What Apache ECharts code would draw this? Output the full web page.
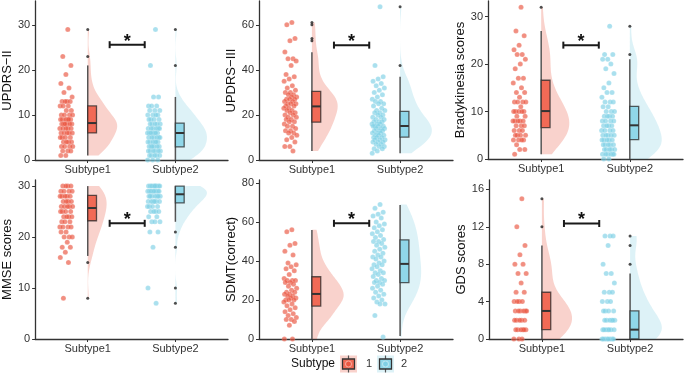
<!DOCTYPE html>
<html>
<head>
<meta charset="utf-8">
<script src="https://cdn.jsdelivr.net/npm/echarts@6/dist/echarts.min.js"></script>
<style>
  html, body { margin: 0; padding: 0; background: #fff; }
  #main { width: 685px; height: 375px; }
</style>
</head>
<body>
<div id="main"></div>
<script>
// categories and panel titles
var categories = ['Subtype1', 'Subtype2'];
var panelNames = ['UPDRS\u2212II', 'UPDRS\u2212III', 'Bradykinesia scores', 'MMSE scores', 'SDMT(correct)', 'GDS scores'];
var yMax = [35.3, 70.6, 33.3, 31.2, 81.5, 17];
var yTicks = [[0, 10, 20, 30], [0, 20, 40, 60], [0, 10, 20, 30], [0, 10, 20, 30], [0, 20, 40, 60, 80], [0, 4, 8, 12, 16]];

// raw scores, subtype 1
var sub1Scores = [
  [29,23,21,19,17,16,15,14,13,13,13,13,12,12,12,11,11,10,10,10,10,9,9,9,9,9,9,8,8,8,8,8,8,7,7,7,7,7,6,6,6,6,6,5,5,5,5,4,4,4,4,3,3,3,3,2,2,2,1,1],
  [61,60,54,53,48,45,45,44,42,38,37,36,35,33,32,31,30,30,29,29,28,28,27,27,27,26,26,25,25,25,24,24,23,23,22,22,21,21,20,20,19,19,18,18,17,17,16,15,15,14,13,13,12,12,11,10,9,8,6,6,4],
  [32,27,26,24,23,22,22,21,20,19,17,17,16,15,14,14,13,12,12,12,12,11,10,10,10,10,10,9,9,8,8,8,8,8,7,7,7,6,6,6,5,5,5,5,4,4,4,4,3,2,2,1],
  [30,30,30,30,29,29,29,29,28,28,28,28,28,27,27,27,27,26,26,26,26,26,25,25,25,25,24,24,24,24,23,23,23,22,22,22,22,21,21,20,20,20,19,18,18,17,16,15,8],
  [56,55,49,48,45,43,39,38,37,36,35,33,31,30,30,30,29,29,28,27,26,25,24,24,23,23,22,22,21,21,20,20,20,19,18,17,16,15,14,13,12,11,10,10,9,7,0,0],
  [15,12,10,9,8,8,7,7,6,5,5,4,4,4,4,3,3,3,3,3,3,2,2,2,2,2,1,1,1,1,1,1,0,0,0]
];
// raw scores, subtype 2
var sub2Scores = [
  [29,21,14,14,12,12,12,11,11,11,10,10,10,10,9,9,9,9,8,8,8,8,8,7,7,7,7,7,7,6,6,6,6,6,6,6,5,5,5,5,5,5,4,4,4,4,4,4,3,3,3,3,3,3,2,2,2,2,2,2,1,1,1,1,1,0,0,0],
  [68,42,37,36,35,34,33,32,31,30,29,28,27,26,26,25,25,24,23,22,22,21,21,20,20,19,19,18,18,17,17,17,16,16,16,15,15,15,15,14,14,14,13,13,13,12,12,12,11,11,11,10,10,10,9,9,9,8,8,8,7,7,6,6,5,5,4,3],
  [28,22,22,21,21,20,19,18,16,15,14,14,13,12,12,12,11,11,10,10,10,9,9,9,9,8,8,8,8,7,7,7,7,6,6,6,6,5,5,5,5,5,4,4,4,4,4,3,3,3,3,3,2,2,2,2,2,1,1,1,1,1,1,0,0],
  [30,30,30,30,30,30,30,30,30,29,29,29,29,29,29,29,29,28,28,28,28,28,28,28,27,27,27,27,27,27,26,26,26,26,25,25,25,25,24,24,23,23,23,21,21,18,10,7],
  [69,67,65,64,63,62,60,59,58,57,56,55,54,53,52,51,50,50,49,48,47,46,45,44,43,42,42,41,40,39,38,38,37,36,35,34,34,33,32,31,30,30,29,29,28,27,26,25,24,23,22,21,20,19,18,18,12,1],
  [11,11,11,10,8,7,7,6,5,5,5,4,4,4,3,3,3,3,2,2,2,2,2,2,1,1,1,1,1,1,1,0,0,0,0,0,0,0,0]
];

// box stats [lower whisker, Q1, median, Q3, upper whisker]
var box1 = [[1,6,8.2,12,21], [4,16.8,23.8,30.5,47.8], [1,6.6,10.1,16.6,27], [16.3,23.2,25.7,28.2,30], [0,16.9,23.1,31.9,55.9], [0,1,3,5,10]];
var box2 = [[0,2.9,6,8.2,14], [3,10.2,15.1,21.6,37], [0,4.1,7.1,11.1,21], [23,26.7,28.4,30,30], [1.5,28.9,38.5,50.8,68.7], [0,0,1,3,7]];
var outliers1 = [[23,29], [53,54,60,61], [32], [15,8], [], [12,15]];
var outliers2 = [[21,29], [42,68], [22,28], [21,18,10,7], [], [8,10,11]];

// significance bars
var sigY = [25.6, 51, 24, 22.7, 59.3, 12.35];
var sigX = [1.25, 1.65];
var sigText = '*';

var grids = [
  {left: 30, top: 1, width: 198, height: 159},
  {left: 259, top: 1, width: 194, height: 159},
  {left: 488, top: 1, width: 195, height: 158},
  {left: 29, top: 180, width: 199, height: 159},
  {left: 259, top: 180, width: 194, height: 159},
  {left: 489, top: 180, width: 194, height: 159}
];

var pointColors = ['rgba(234,84,62,0.82)', 'rgba(125,207,229,0.82)'];
var boxColors = ['rgba(240,100,80,0.95)', 'rgba(140,214,232,0.95)'];
var violinColors = ['rgba(230,75,53,0.25)', 'rgba(77,187,213,0.19)'];

function quantile(sorted, p) {
  var h = (sorted.length - 1) * p, lo = Math.floor(h);
  return sorted[lo] + (h - lo) * ((sorted[lo + 1] !== undefined ? sorted[lo + 1] : sorted[lo]) - sorted[lo]);
}

function density(vals) {
  var s = vals.slice().sort(function (a, b) { return a - b; });
  var n = s.length, mean = 0, sd = 0;
  s.forEach(function (v) { mean += v; }); mean /= n;
  s.forEach(function (v) { sd += (v - mean) * (v - mean); }); sd = Math.sqrt(sd / (n - 1));
  var iqr = quantile(s, 0.75) - quantile(s, 0.25);
  var sp = iqr > 0 ? Math.min(sd, iqr / 1.34) : sd;
  var h = 0.9 * sp * Math.pow(n, -0.2);
  var lo = s[0], hi = s[n - 1], out = [];
  for (var k = 0; k <= 100; k++) {
    var y = lo + (hi - lo) * k / 100, d = 0;
    for (var j = 0; j < n; j++) { var z = (y - s[j]) / h; d += Math.exp(-0.5 * z * z); }
    out.push([y, d / (n * h * Math.sqrt(2 * Math.PI))]);
  }
  return out;
}

var xAxes = [], yAxes = [], series = [];

grids.forEach(function (g, p) {
  xAxes.push({
    type: 'value', gridIndex: p, min: 0.4, max: 2.6,
    axisLine: {lineStyle: {color: '#333', width: 1.3}},
    axisTick: {customValues: [1, 2], length: 3, lineStyle: {color: '#333'}},
    axisLabel: {customValues: [1, 2], margin: 4, fontSize: 11, color: '#333',
      formatter: function (v) { return categories[Math.round(v) - 1]; }},
    splitLine: {show: false}
  });
  yAxes.push({
    type: 'value', gridIndex: p, min: 0, max: yMax[p],
    name: panelNames[p], nameLocation: 'middle', nameGap: 18,
    nameTextStyle: {fontSize: 13, color: '#111'},
    axisLine: {show: true, lineStyle: {color: '#333', width: 1.3}},
    axisTick: {show: true, customValues: yTicks[p], length: 3, lineStyle: {color: '#333'}},
    axisLabel: {customValues: yTicks[p], margin: 5, fontSize: 11, color: '#333'},
    splitLine: {show: false}
  });

  var groups = [sub1Scores[p], sub2Scores[p]];
  var dens = groups.map(density);
  var maxD = 0;
  dens.forEach(function (d) { d.forEach(function (q) { maxD = Math.max(maxD, q[1]); }); });
  var scale = 0.36 / maxD;

  groups.forEach(function (vals, gi) {
    var cat = gi + 1;
    var outline = dens[gi].map(function (q) { return [cat + q[1] * scale, q[0]]; });
    // half violin
    series.push({
      type: 'custom', xAxisIndex: p, yAxisIndex: p, z: 1, silent: true,
      data: [[cat, dens[gi][0][0]]],
      renderItem: (function (outline, cat) {
        return function (params, api) {
          var pts = [api.coord([cat, outline[0][1]])];
          outline.forEach(function (o) { pts.push(api.coord(o)); });
          pts.push(api.coord([cat, outline[outline.length - 1][1]]));
          return {type: 'polygon', shape: {points: pts}, style: {fill: violinColors[gi], stroke: null}};
        };
      })(outline, cat)
    });
    // jittered points
    series.push({
      type: 'scatter', xAxisIndex: p, yAxisIndex: p, z: 3, symbolSize: 5,
      itemStyle: {color: pointColors[gi], borderColor: 'rgba(255,255,255,0.35)', borderWidth: 0.5},
      data: vals.map(function (v, i) {
        var f = ((i + 1) * 0.618034) % 1;
        return [cat - 0.245 + (f - 0.5) * 0.15, v];
      })
    });
    // box + whisker
    var b = (gi === 0 ? box1 : box2)[p];
    series.push({
      type: 'custom', xAxisIndex: p, yAxisIndex: p, z: 4, silent: true,
      data: [[cat].concat(b)],
      renderItem: function (params, api) {
        var c = api.value(0);
        var pMin = api.coord([c, api.value(1)]), pMax = api.coord([c, api.value(5)]);
        var q1 = api.coord([c, api.value(2)]), q3 = api.coord([c + 0.1, api.value(4)]);
        var md0 = api.coord([c, api.value(3)]), md1 = api.coord([c + 0.1, api.value(3)]);
        return {type: 'group', children: [
          {type: 'line', shape: {x1: pMin[0], y1: pMin[1], x2: pMax[0], y2: pMax[1]},
            style: {stroke: '#555', lineWidth: 1.5}},
          {type: 'rect', shape: {x: q1[0], y: q3[1], width: q3[0] - q1[0], height: q1[1] - q3[1]},
            style: {fill: boxColors[gi], stroke: 'rgba(40,40,40,0.75)', lineWidth: 1.3}},
          {type: 'line', shape: {x1: md0[0], y1: md0[1], x2: md1[0], y2: md1[1]},
            style: {stroke: '#333', lineWidth: 2}}
        ]};
      }
    });
    // outliers
    series.push({
      type: 'scatter', xAxisIndex: p, yAxisIndex: p, z: 5, symbolSize: 3,
      itemStyle: {color: '#222'},
      data: (gi === 0 ? outliers1 : outliers2)[p].map(function (v) { return [cat, v]; })
    });
  });

  // significance bar
  series.push({
    type: 'custom', xAxisIndex: p, yAxisIndex: p, z: 6, silent: true,
    data: [[sigX[0], sigX[1], sigY[p]]],
    renderItem: function (params, api) {
      var a = api.coord([api.value(0), api.value(2)]), b = api.coord([api.value(1), api.value(2)]);
      var st = {stroke: '#1a1a1a', lineWidth: 2};
      return {type: 'group', children: [
        {type: 'line', shape: {x1: a[0], y1: a[1], x2: b[0], y2: b[1]}, style: st},
        {type: 'line', shape: {x1: a[0], y1: a[1] - 3.5, x2: a[0], y2: a[1] + 3.5}, style: st},
        {type: 'line', shape: {x1: b[0], y1: b[1] - 3.5, x2: b[0], y2: b[1] + 3.5}, style: st},
        {type: 'text', x: (a[0] + b[0]) / 2, y: a[1] - 3,
          style: {text: sigText, fill: '#111', font: 'bold 18px Arial', align: 'center', verticalAlign: 'middle'}}
      ]};
    }
  });
});

// legend drawn as keys matching the combined violin/box/point glyph
function legendKey(x, gi) {
  return [
    {type: 'rect', shape: {x: x, y: 355.5, width: 17, height: 17}, style: {fill: violinColors[gi]}},
    {type: 'line', shape: {x1: x + 8.5, y1: 355.5, x2: x + 8.5, y2: 372.5}, style: {stroke: '#555', lineWidth: 1.2}},
    {type: 'rect', shape: {x: x + 2.5, y: 359, width: 12, height: 10}, style: {fill: boxColors[gi], stroke: '#333', lineWidth: 1.3}},
    {type: 'circle', shape: {cx: x + 8.5, cy: 364, r: 3}, style: {fill: pointColors[gi], stroke: 'rgba(255,255,255,0.6)', lineWidth: 0.8}}
  ];
}
var legendEls = [{type: 'text', x: 291, y: 364, style: {text: 'Subtype', font: '12px Arial', fill: '#111', verticalAlign: 'middle'}}]
  .concat(legendKey(340, 0))
  .concat([{type: 'text', x: 366, y: 364, style: {text: '1', font: '11px Arial', fill: '#333', verticalAlign: 'middle'}}])
  .concat(legendKey(377, 1))
  .concat([{type: 'text', x: 401, y: 364, style: {text: '2', font: '11px Arial', fill: '#333', verticalAlign: 'middle'}}]);

var chart = echarts.init(document.getElementById('main'));
chart.setOption({
  animation: false,
  grid: grids,
  xAxis: xAxes,
  yAxis: yAxes,
  series: series,
  graphic: legendEls
});
</script>
</body>
</html>
